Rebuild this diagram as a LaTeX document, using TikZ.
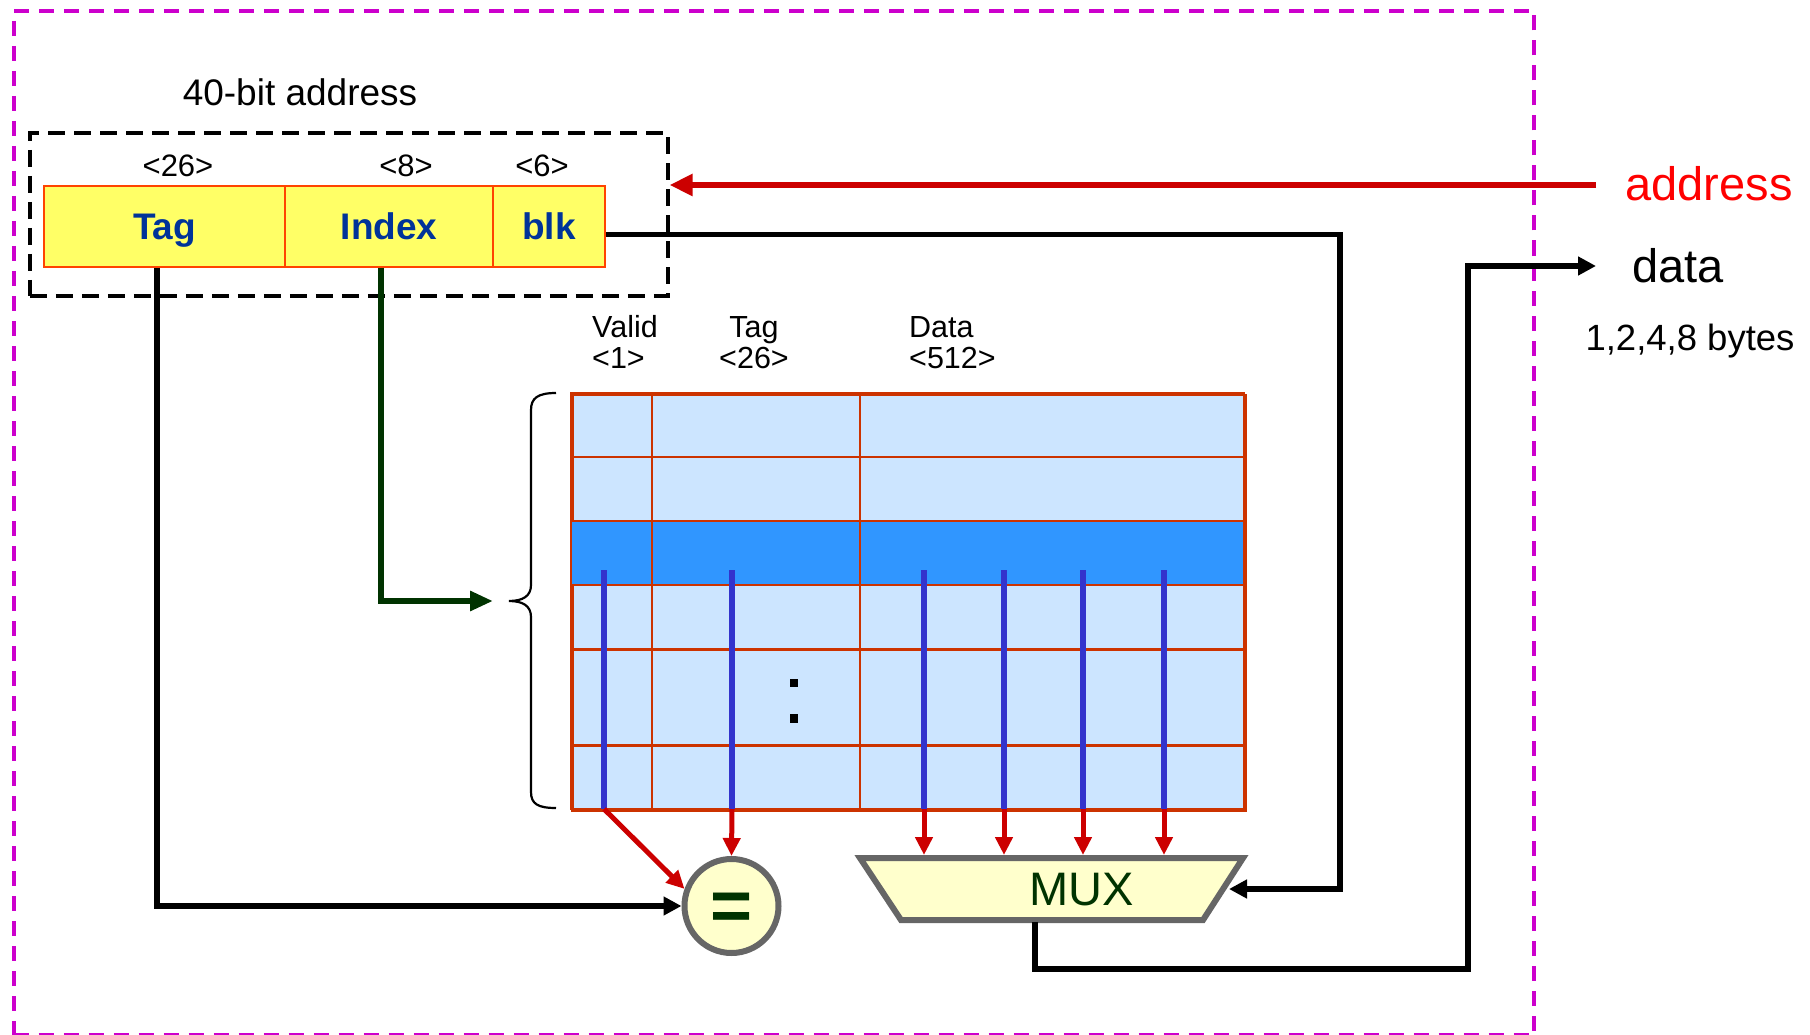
\documentclass[tikz,border=0pt]{standalone}
\usepackage{fontspec}
\setmainfont{Liberation Sans}
\usetikzlibrary{arrows.meta,calc}
\definecolor{mag}{RGB}{204,0,204}
\definecolor{fieldfill}{RGB}{255,255,102}
\definecolor{fieldline}{RGB}{255,68,0}
\definecolor{navy}{RGB}{0,51,153}
\definecolor{cellfill}{RGB}{204,229,255}
\definecolor{hifill}{RGB}{48,150,255}
\definecolor{gridc}{RGB}{204,51,0}
\definecolor{bus}{RGB}{51,51,204}
\definecolor{sigred}{RGB}{204,0,0}
\definecolor{dgreen}{RGB}{0,51,0}
\definecolor{unitfill}{RGB}{255,255,204}
\definecolor{unitline}{RGB}{102,102,102}
\definecolor{addrred}{RGB}{255,0,0}
\newcommand{\fsz}[1]{\fontsize{#1}{#1}\selectfont}
\begin{document}
\begin{tikzpicture}[x=1pt,y=-1pt,
  field/.style={draw=fieldline, line width=2.2pt, fill=fieldfill, minimum height=80.5pt,
    anchor=north west, inner sep=0pt, text height=27pt, text depth=0pt,
    font=\fsz{37}\bfseries, text=navy},
  lbl/.style={inner sep=0pt, anchor=base},
  wire/.style={line width=5.3pt, line join=miter},
  blkarrow/.style={wire, -{Triangle[length=18pt,width=18pt]}},
  redarrow/.style={line width=5pt, draw=sigred, -{Triangle[length=18pt,width=17pt]}},
  busline/.style={line width=5.5pt, draw=bus},
  unit/.style={draw=unitline, line width=6pt, fill=unitfill, line join=miter},
  gridline/.style={draw=gridc, line width=2.8pt}
]
\useasboundingbox (0,0) rectangle (1810,1035);

% outer frame
\node[draw=mag, line width=4pt, dash pattern=on 15pt off 10pt, minimum width=1520.5pt,
  minimum height=1024pt, anchor=north west, inner sep=0pt] (frame) at (11.5,9) {};

% address title
\node[lbl, font=\fsz{37}] (title) at (300,106) {40-bit address};

% dashed address box
\node[draw, line width=3.6pt, dash pattern=on 17pt off 9pt, minimum width=638pt,
  minimum height=163pt, anchor=north west, inner sep=0pt] (abox) at (28,131) {};

% fields
\node[field, minimum width=241pt] (tagf) at (43,185) {Tag};
\node[field, minimum width=208pt] (idxf) at (284,185) {Index};
\node[field, minimum width=112pt] (blkf) at (492,185) {blk};

\node[lbl, font=\fsz{31}] (w26) at (178,177) {<26>};
\node[lbl, font=\fsz{31}] (w8) at (406,177) {<8>};
\node[lbl, font=\fsz{31}] (w6) at (542,177) {<6>};

% address input
\coordinate (addrsrc) at (1596,185);
\draw[line width=6.5pt, draw=sigred, -{Triangle[length=23pt,width=21pt]}] (addrsrc) -- (abox.east |- addrsrc);
\node[lbl, font=\fsz{47}, text=addrred] (addr) at (1709,201) {address};

% data output label
\node[lbl, font=\fsz{47}] (data) at (1678,283) {data};
\node[lbl, font=\fsz{36.5}] (bytes) at (1690,350) {1,2,4,8 bytes};

% column headers
\node[inner sep=0pt, anchor=base west, font=\fsz{30.5}] (hv1) at (592,337) {Valid};
\node[inner sep=0pt, anchor=base west, font=\fsz{30.5}] (hv2) at (592,368) {<1>};
\node[lbl, font=\fsz{30.5}] (ht1) at (754,337) {Tag};
\node[lbl, font=\fsz{30.5}] (ht2) at (754,368) {<26>};
\node[inner sep=0pt, anchor=base west, font=\fsz{30.5}] (hd1) at (909,337) {Data};
\node[inner sep=0pt, anchor=base west, font=\fsz{30.5}] (hd2) at (909,368) {<512>};

% table
\node[fill=cellfill, draw=gridc, line width=2.8pt, minimum width=673pt, minimum height=415.5pt,
  anchor=north west, inner sep=0pt] (tbl) at (571,393.5) {};
\fill[hifill] (571,521) rectangle (1244,585);
\draw[gridline] (571,393.5) rectangle (1244,809);
\foreach \yy in {457,521,585,649.5,745.5} \draw[gridline] (571,\yy) -- (1244,\yy);
\foreach \xx in {652,860} \draw[gridline] (\xx,393.5) -- (\xx,809);
\fill (790,679) rectangle (798,687);
\fill (790,714) rectangle (798,723);

% brace
\draw[line width=2.2pt] (556,393) .. controls (538,393) and (531,398) .. (531,410) -- (531,585)
  .. controls (531,596) and (523,601) .. (509,601)
  .. controls (523,601) and (531,606) .. (531,617) -- (531,792)
  .. controls (531,804) and (538,808) .. (556,808);
\coordinate (idxin) at (493,601);

% comparator
\node[circle, unit, minimum size=94pt, inner sep=0pt, text height=48pt, text depth=0pt,
  font=\fsz{72}\bfseries, text=dgreen] (eq) at (731.5,906) {=};

% MUX
\coordinate (mTL) at (860,858);
\coordinate (mTR) at (1243,858);
\coordinate (mBR) at (1203,920);
\coordinate (mBL) at (901,920);
\draw[unit] (mTL) -- (mTR) -- (mBR) -- (mBL) -- cycle;
\node[lbl, font=\fsz{47}, text=dgreen] (mux) at (1082,905) {MUX};
\coordinate (muxin) at (1229,889);
\coordinate (muxout) at (1035,922);

% bus lines from selected row
\foreach \xx/\nm in {604/b1,732/b2,924/b3,1004/b4,1083/b5,1164/b6} {
  \coordinate (\nm top) at (\xx,570);
  \coordinate (\nm) at (\xx,809);
  \draw[busline] (\nm top) -- (\nm);
}
\draw[redarrow] (b1) -- (eq.160);
\draw[redarrow] (b2) -- (eq.north);
\foreach \nm in {b3,b4,b5,b6} {
  \coordinate (\nm m) at ($(\nm)+(0,46)$);
  \draw[redarrow] (\nm) -- (\nm m);
}

% tag compare line
\draw[blkarrow] ([xshift=-7.5pt]tagf.south) |- (eq.west);
% index line
\draw[line width=6pt, draw=dgreen, line join=miter, -{Triangle[length=23pt,width=19pt]}]
  ([xshift=-8pt]idxf.south) |- (idxin);
% block offset to mux
\coordinate (c2) at (1340,889);
\draw[blkarrow] ([yshift=-8pt]blkf.east) -| (c2) -- (muxin);
% mux output to data
\coordinate (c1) at (1468,969);
\coordinate (dataend) at (1596,266);
\draw[blkarrow] (muxout) |- (c1) |- (dataend);
\end{tikzpicture}
\end{document}
